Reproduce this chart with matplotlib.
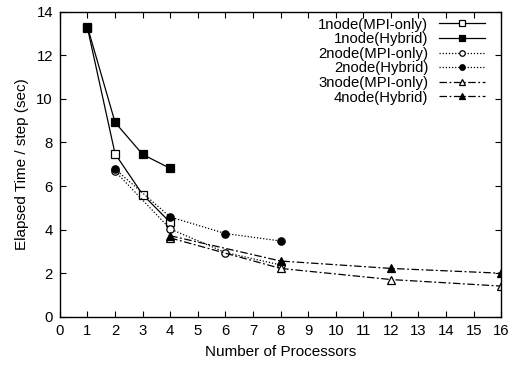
import matplotlib
matplotlib.use("Agg")
import matplotlib.pyplot as plt

plt.rcParams['font.family'] = ['Liberation Sans', 'DejaVu Sans']

x_1node = [1, 2, 3, 4]
y_1node_mpi = [13.25, 7.48, 5.61, 4.33]
y_1node_hyb = [13.3, 8.92, 7.45, 6.81]

x_2node = [2, 4, 6, 8]
y_2node_mpi = [6.68, 4.03, 2.95, 2.38]
y_2node_hyb = [6.78, 4.58, 3.82, 3.48]

x_3node = [4, 8, 12, 16]
y_3node_mpi = [3.62, 2.22, 1.71, 1.41]
y_4node_hyb = [3.72, 2.56, 2.22, 2.0]

labels = ["1node(MPI-only)", "1node(Hybrid)", "2node(MPI-only)",
          "2node(Hybrid)", "3node(MPI-only)", "4node(Hybrid)"]

fig = plt.figure(figsize=(5.12, 3.65), dpi=100)
ax = fig.add_axes([0.117, 0.132, 0.862, 0.836])

dashdot = (0, (6, 2, 1.5, 2))
dotted = (0, (1, 1.5))
ax.plot(x_1node, y_1node_mpi, color='black', lw=0.9, ls='-', marker='s',
        mfc='white', mec='black', ms=5.5, mew=0.9, label=labels[0])
ax.plot(x_1node, y_1node_hyb, color='black', lw=0.9, ls='-', marker='s',
        mfc='black', mec='black', ms=5.5, mew=0.9, label=labels[1])
ax.plot(x_2node, y_2node_mpi, color='black', lw=0.9, ls=dotted, marker='o',
        mfc='white', mec='black', ms=5.3, mew=0.9, label=labels[2])
ax.plot(x_2node, y_2node_hyb, color='black', lw=0.9, ls=dotted, marker='o',
        mfc='black', mec='black', ms=5.3, mew=0.9, label=labels[3])
ax.plot(x_3node, y_3node_mpi, color='black', lw=0.9, ls=dashdot, marker='^',
        mfc='white', mec='black', ms=5.3, mew=0.9, label=labels[4])
ax.plot(x_3node, y_4node_hyb, color='black', lw=0.9, ls=dashdot, marker='^',
        mfc='black', mec='black', ms=5.3, mew=0.9, label=labels[5])

ax.set_xlim(0, 16)
ax.set_ylim(0, 14)
ax.set_xticks(range(0, 17))
ax.set_yticks(range(0, 15, 2))
ax.tick_params(direction='in', top=True, right=True, length=4, width=0.8,
               labelsize=10.7, pad=5)
for s in ax.spines.values():
    s.set_linewidth(1.0)

ax.set_xlabel("Number of Processors", fontsize=11, labelpad=5)
ax.set_ylabel("Elapsed Time / step (sec)", fontsize=11, labelpad=5)

ax.legend(loc='upper right', bbox_to_anchor=(0.983, 1.01), frameon=False,
          markerfirst=False, fontsize=10.7, labelspacing=0.04, handlelength=3.1,
          handletextpad=0.7, borderaxespad=0.2, markerscale=0.75)

fig.savefig("out.png", dpi=100)
